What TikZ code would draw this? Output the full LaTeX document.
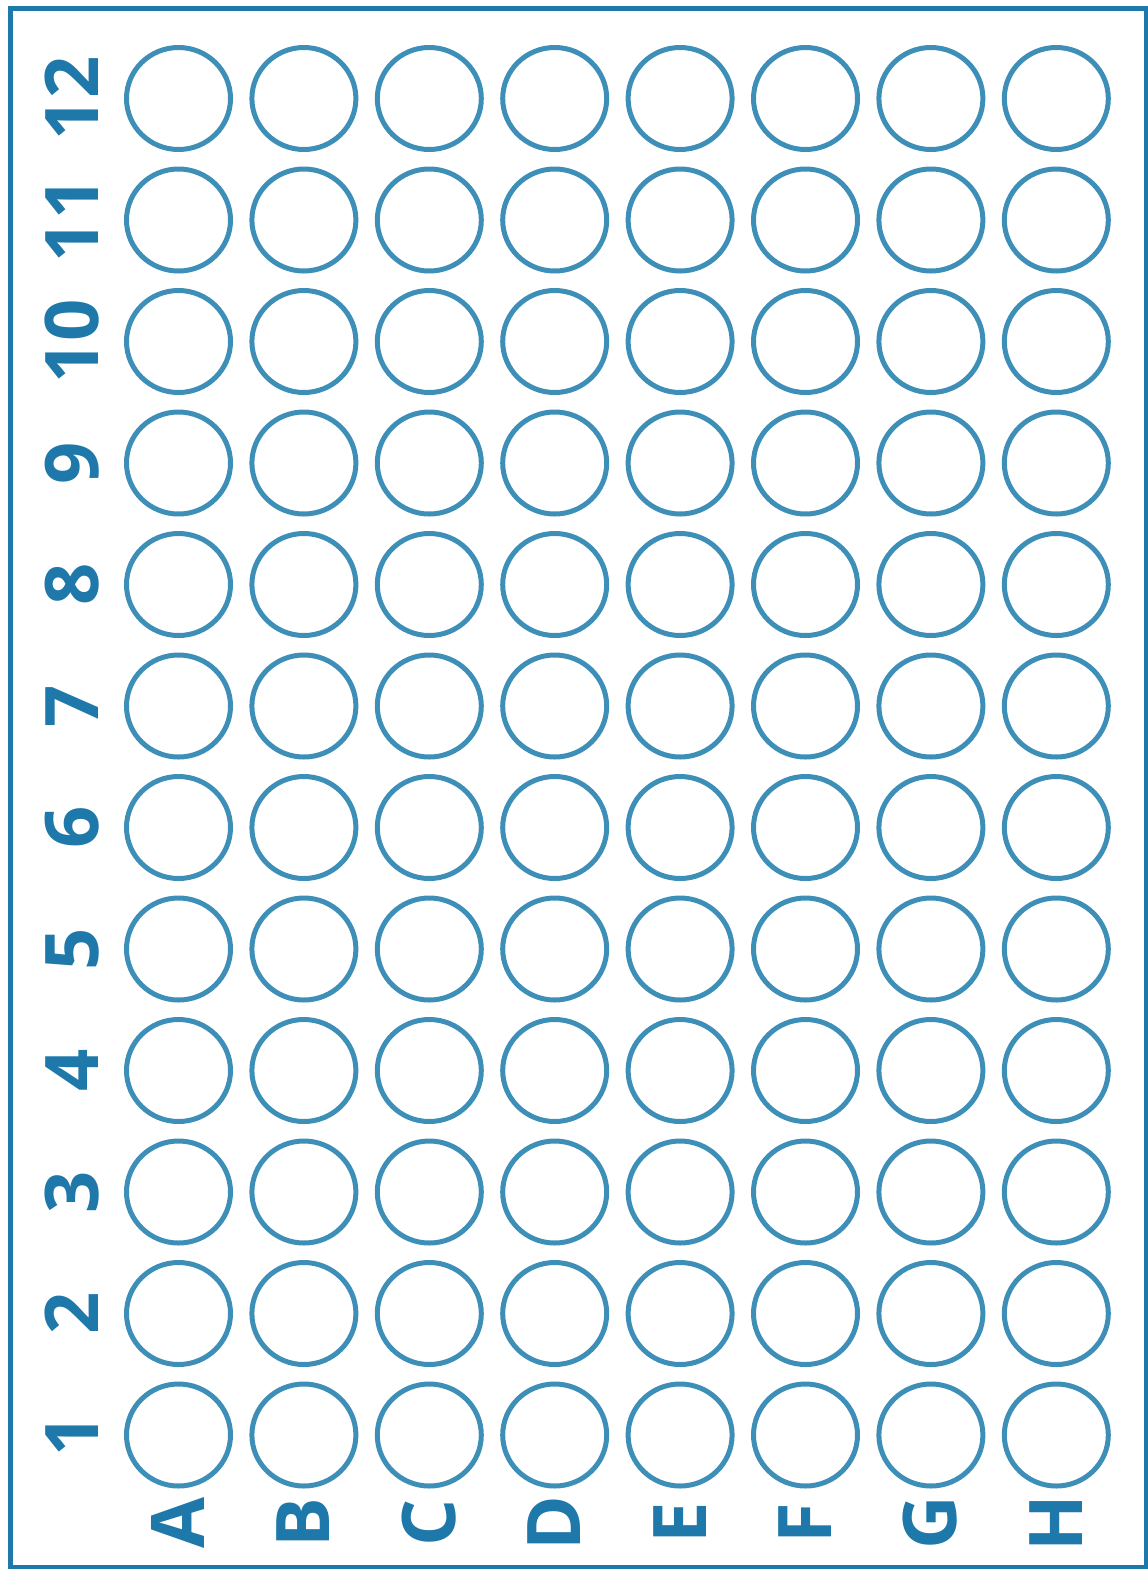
\documentclass[tikz,border=0pt]{standalone}
\definecolor{plateBlue}{HTML}{1E78AA}
\definecolor{wellBlue}{HTML}{3D8FB8}
\usepackage{fontspec}
\setmainfont{Open Sans}
\usetikzlibrary{positioning, shapes.geometric}

\begin{document}
\begin{tikzpicture}[x=0.5pt, y=-0.5pt,
    well/.style={ellipse, draw=wellBlue, line width=2.5pt, minimum width=52pt, minimum height=51pt, inner sep=0pt},
    platelabel/.style={text=plateBlue, font=\fontsize{37}{40}\selectfont\bfseries, rotate=90, inner sep=0pt}]
  \useasboundingbox (0,0) rectangle (1147,1569);
  \draw[plateBlue, line width=2.5pt] (10,8) rectangle (1146,1567);
  % column letters and wells
  \foreach \L [count=\i from 0] in {A,B,C,D,E,F,G,H} {
    \node[platelabel] (lab\L) at (178+125.4*\i, 1523) {\L};
    \foreach \n in {1,...,12} {
      \node[well] (w\L\n) at (178.5+125.4*\i, 1435-121.5*\n+121.5) {};
    }
  }
  % row numbers
  \foreach \n in {1,...,12} {
    \node[platelabel] (num\n) at (72, 1435-121.5*\n+121.5) {\n};
  }
\end{tikzpicture}
\end{document}
